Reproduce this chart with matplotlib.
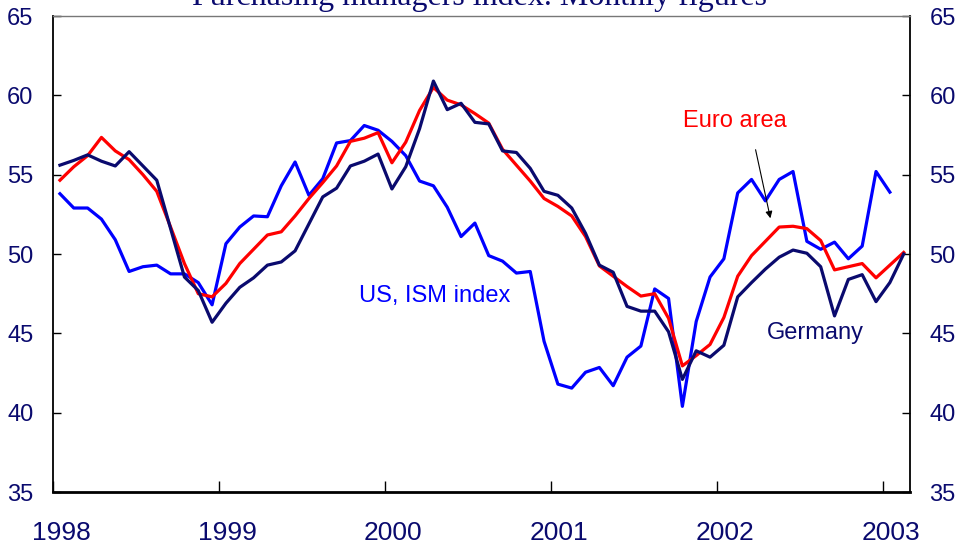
import matplotlib
matplotlib.use("Agg")
import matplotlib.pyplot as plt
import matplotlib.transforms as mtransforms
import numpy as np

# monthly PMI, Jan 1998 - Feb 2003 (US ends Jan 2003)
germany = [55.6, 55.9, 56.25, 55.85, 55.55, 56.45, 55.55, 54.65, 51.6, 48.55, 47.7, 45.7,
           46.9, 47.9, 48.5, 49.3, 49.5, 50.2, 51.9, 53.6, 54.15, 55.55, 55.85, 56.3,
           54.1, 55.5, 57.9, 60.9, 59.1, 59.5, 58.3, 58.2, 56.5, 56.4, 55.4, 53.95,
           53.7, 52.9, 51.3, 49.3, 48.85, 46.7, 46.4, 46.4, 45.1, 42.1, 43.9, 43.5,
           44.25, 47.3, 48.2, 49.05, 49.8, 50.25, 50.05, 49.2, 46.1, 48.4, 48.7, 47.0,
           48.2, 50.0]
euro_area = [54.65, 55.5, 56.2, 57.35, 56.5, 55.95, 55.0, 53.95, 51.7, 49.4, 47.5, 47.3,
             48.15, 49.4, 50.3, 51.2, 51.4, 52.4, 53.5, 54.5, 55.55, 57.1, 57.3, 57.65,
             55.75, 57.05, 59.05, 60.5, 59.7, 59.4, 58.85, 58.25, 56.6, 55.6, 54.6, 53.5,
             53.0, 52.4, 51.1, 49.25, 48.6, 47.95, 47.35, 47.5, 45.95, 42.95, 43.6, 44.3,
             46.0, 48.6, 49.9, 50.8, 51.7, 51.75, 51.6, 50.85, 49.0, 49.2, 49.4, 48.5,
             49.3, 50.1]
us_ism = [53.8, 52.9, 52.9, 52.2, 50.9, 48.9, 49.2, 49.3, 48.75, 48.75, 48.2, 46.8,
          50.65, 51.7, 52.4, 52.35, 54.3, 55.8, 53.7, 54.75, 57.0, 57.15, 58.1, 57.8,
          57.1, 56.2, 54.6, 54.3, 52.95, 51.1, 51.95, 49.9, 49.55, 48.8, 48.9, 44.5,
          41.8, 41.55, 42.55, 42.85, 41.7, 43.5, 44.2, 47.8, 47.2, 40.4, 45.75, 48.55,
          49.7, 53.85, 54.7, 53.35, 54.7, 55.2, 50.8, 50.3, 50.75, 49.7, 50.5, 55.2,
          53.9]
years = [1998, 1999, 2000, 2001, 2002, 2003]
yticks = [35, 40, 45, 50, 55, 60, 65]

navy = "#0a0a6e"
plt.rcParams["font.family"] = ["Liberation Sans", "DejaVu Sans"]

# months plotted at mid-month
t_de = 1998 + (np.arange(len(germany)) + 0.5) / 12
t_us = 1998 + (np.arange(len(us_ism)) + 0.5) / 12

H = 545
fig = plt.figure(figsize=(9.59, 5.45), dpi=100)
ax = fig.add_axes([0.0553, 0.0972, 0.8936, 0.8734])

ax.plot(t_us, us_ism, color="#0000ff", lw=2.3)
ax.plot(t_de, euro_area, color="#ff0000", lw=2.3)
ax.plot(t_de, germany, color=navy, lw=2.3)

ax.set_xlim(1998, 2003.163)
ax.set_ylim(35, 65)
ax.set_yticks(yticks)
ax.set_xticks(years)
ax.tick_params(axis="y", direction="in", length=6, width=1, labelsize=17,
               labelcolor=navy, right=True, labelright=True, pad=14)
ax.tick_params(axis="x", direction="in", length=8, width=1, labelsize=19,
               labelcolor=navy, pad=21)
offset = mtransforms.ScaledTranslation(8 / 100, 0, fig.dpi_scale_trans)
for lab in ax.get_xticklabels():
    lab.set_transform(lab.get_transform() + offset)

for side in ["left", "right"]:
    ax.spines[side].set_linewidth(1.3)
ax.spines["bottom"].set_linewidth(2)
ax.spines["top"].set_linewidth(1)
ax.spines["top"].set_color("#777777")

# series labels, placed in pixel coords measured from the top
ax.text(735, H - 121, "Euro area", transform=None, color="#ff0000", fontsize=17,
        ha="center", va="center")
ax.text(435, H - 296, "US, ISM index", transform=None, color="#0000ff", fontsize=17,
        ha="center", va="center")
ax.text(815, H - 333, "Germany", transform=None, color=navy, fontsize=17,
        ha="center", va="center")

ax.annotate("", xy=(771, H - 221), xytext=(755, H - 147), xycoords="figure pixels",
            textcoords="figure pixels",
            arrowprops=dict(arrowstyle="-|>", color="black", lw=0.8, mutation_scale=10))

fig.text(0.5, 1 - 5 / H, "Purchasing managers index. Monthly figures", ha="center",
         va="baseline", fontsize=23, color=navy, family="Liberation Serif")

fig.savefig("out.png", dpi=100)
